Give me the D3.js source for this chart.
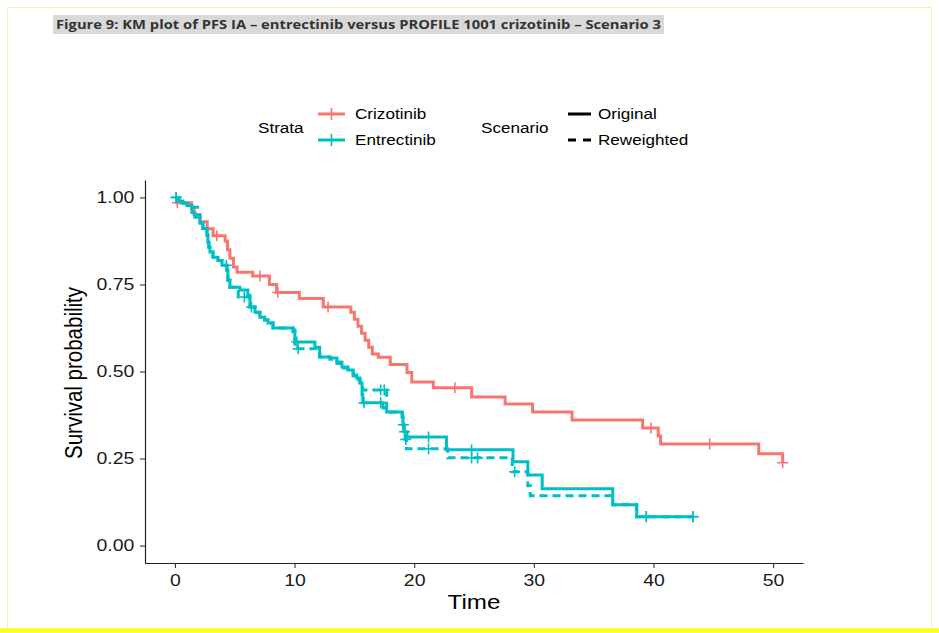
<!DOCTYPE html>
<html>
<head>
  <meta charset="utf-8">
  <title>KM plot of PFS IA</title>
  <script src="https://d3js.org/d3.v7.min.js"></script>
  <style>
    body { margin: 0; background: #fff; }
    svg { display: block; font-family: "Liberation Sans", Arial, sans-serif; }
  </style>
</head>
<body>
  <svg width="939" height="633"></svg>

  <script>
    // crizotinib (original only)
    const crizTime = [0, 0.15, 1.4, 1.6, 2.1, 2.7, 3.2, 4.2, 4.4, 4.6, 4.9, 5.2, 6.5, 7.9, 8.5, 10.4, 12.4,
      14.7, 15.0, 15.3, 15.6, 15.9, 16.2, 16.5, 17.0, 18.0, 19.4, 19.8, 21.6, 24.8, 27.6, 29.9, 33.2,
      39.1, 40.4, 40.6, 48.8, 50.8];
    const crizSurv = [1, 0.985, 0.968, 0.95, 0.93, 0.91, 0.89, 0.875, 0.85, 0.825, 0.80, 0.785, 0.774, 0.75, 0.727, 0.71, 0.685,
      0.67, 0.65, 0.63, 0.61, 0.59, 0.57, 0.55, 0.541, 0.52, 0.497, 0.47, 0.453, 0.427, 0.407, 0.384, 0.361,
      0.338, 0.315, 0.292, 0.264, 0.238];
    const crizCensor = [0.2, 3.5, 7.1, 8.6, 12.8, 23.4, 39.8, 44.7, 50.8];
    const crizEnd = 50.8;

    // entrectinib, original
    const entOrigTime = [0, 0.33, 0.67, 1.0, 1.42, 1.67, 2.09, 2.34, 2.68, 2.76, 2.84, 2.93, 3.18, 3.6, 3.93, 4.35,
      4.43, 4.6, 5.43, 6.1, 6.27, 6.69, 7.1, 7.5, 7.78, 8.2, 9.87, 10.03, 11.7, 12.1, 12.96, 13.55, 13.96,
      14.46, 14.9, 15.2, 15.47, 15.64, 15.7, 17.4, 17.7, 19.0, 19.06, 19.15, 19.4, 22.7, 28.26, 29.5, 30.7,
      36.6, 38.6];
    const entOrigSurv = [1, 0.99, 0.983, 0.977, 0.957, 0.943, 0.926, 0.911, 0.891, 0.871, 0.857, 0.843, 0.828, 0.819, 0.805, 0.791,
      0.762, 0.742, 0.734, 0.719, 0.685, 0.67, 0.656, 0.648, 0.639, 0.625, 0.619, 0.585, 0.57, 0.542, 0.539, 0.527, 0.513,
      0.504, 0.49, 0.481, 0.467, 0.433, 0.41, 0.395, 0.384, 0.37, 0.347, 0.327, 0.312, 0.275, 0.241, 0.203, 0.163,
      0.117, 0.083];
    const entOrigCensor = [0.1, 4.3, 6.4, 10.2, 15.8, 17.2, 19.1, 19.2, 21.2, 24.8, 39.4, 43.3];

    // entrectinib, reweighted
    const entRwTime = [0, 0.33, 0.67, 1.0, 1.9, 2.09, 2.34, 2.68, 2.76, 2.84, 2.93, 3.18, 3.6, 3.93, 4.35,
      4.43, 4.6, 5.3, 6.27, 6.69, 7.1, 7.5, 7.78, 8.2, 9.87, 10.03, 12.1, 12.96, 13.55, 13.96,
      14.46, 14.9, 15.2, 15.47, 15.7, 17.7, 19.0, 19.06, 19.15, 19.25, 19.35, 22.8, 28.2, 29.5, 29.7,
      36.6, 38.6];
    const entRwSurv = [1, 0.99, 0.983, 0.972, 0.95, 0.926, 0.911, 0.891, 0.871, 0.857, 0.843, 0.828, 0.819, 0.805, 0.791,
      0.762, 0.742, 0.714, 0.685, 0.67, 0.656, 0.648, 0.639, 0.625, 0.614, 0.565, 0.542, 0.535, 0.523, 0.51,
      0.5, 0.487, 0.477, 0.462, 0.447, 0.384, 0.37, 0.347, 0.327, 0.305, 0.278, 0.252, 0.212, 0.172, 0.143,
      0.117, 0.083];
    const entRwCensor = [0.1, 5.8, 10.3, 17.2, 17.5, 19.3, 21.2, 24.8, 25.3, 28.4, 39.4, 43.3];
    const entEnd = 43.3;

    const xTicks = [0, 10, 20, 30, 40, 50];
    const yTicks = [0, 0.25, 0.5, 0.75, 1];

    const red = "#F8766D", teal = "#00BFC4";
    const sx = 1.18; // picture is stretched sideways

    const svg = d3.select("svg");

    // page frame
    svg.append("rect").attr("x", 7.5).attr("y", 7.5).attr("width", 924).attr("height", 622)
      .attr("fill", "none").attr("stroke", "#f3f3b0").attr("stroke-width", 1);
    svg.append("rect").attr("x", 0).attr("y", 628).attr("width", 939).attr("height", 5).attr("fill", "#ffff33");

    // caption
    svg.append("rect").attr("x", 53).attr("y", 15).attr("width", 611).attr("height", 19).attr("fill", "#d9d9d9");
    svg.append("text").attr("x", 56).attr("y", 29)
      .attr("font-family", "'Open Sans', sans-serif").attr("font-weight", "bold").attr("font-size", 12.5)
      .attr("fill", "#333").attr("textLength", 605).attr("lengthAdjust", "spacingAndGlyphs")
      .text("Figure 9: KM plot of PFS IA \u2013 entrectinib versus PROFILE 1001 crizotinib \u2013 Scenario 3");

    const x = d3.scaleLinear().domain([-2.5, 52.5]).range([145, 803]);
    const y = d3.scaleLinear().domain([-0.05, 1.05]).range([563, 180]);

    // axes
    const gx = svg.append("g").attr("transform", "translate(0,563)")
      .call(d3.axisBottom(x).tickValues(xTicks).tickSize(5).tickSizeOuter(0).tickPadding(6));
    const gy = svg.append("g").attr("transform", "translate(145,0)")
      .call(d3.axisLeft(y).tickValues(yTicks).tickFormat(d3.format(".2f")).tickSize(5).tickSizeOuter(0).tickPadding(4));
    [gx, gy].forEach(g => {
      g.select(".domain").attr("stroke", "#222").attr("stroke-width", 1.2);
      g.selectAll(".tick line").attr("stroke", "#333").attr("stroke-width", 1.1);
      g.selectAll(".tick text").attr("font-size", 16.5).attr("fill", "#1a1a1a")
        .attr("font-family", "'Liberation Sans', Arial, sans-serif");
    });
    gx.selectAll(".tick text").attr("transform", `scale(${sx},1)`);
    gy.selectAll(".tick text").attr("transform", `scale(${sx},1)`);

    svg.append("text").attr("transform", `translate(474,609) scale(${sx},1)`)
      .attr("text-anchor", "middle").attr("font-size", 20.5).attr("fill", "#000").text("Time");
    svg.append("text").attr("transform", `translate(82,373) scale(${sx},1) rotate(-90)`)
      .attr("text-anchor", "middle").attr("font-size", 20.5).attr("fill", "#000").text("Survival probability");

    // curves
    const stepLine = d3.line().x(d => x(d[0])).y(d => y(d[1])).curve(d3.curveStepAfter);
    const pts = (t, s, end) => t.map((v, i) => [v, s[i]]).concat([[end, s[s.length - 1]]]);
    const survAt = (t, s, v) => { let k = 0; t.forEach((tt, i) => { if (tt <= v) k = i; }); return s[k]; };

    const curves = [
      { t: crizTime, s: crizSurv, c: crizCensor, end: crizEnd, col: red, dash: null },
      { t: entOrigTime, s: entOrigSurv, c: entOrigCensor, end: entEnd, col: teal, dash: null },
      { t: entRwTime, s: entRwSurv, c: entRwCensor, end: entEnd, col: teal, dash: "8,5" }
    ];

    curves.forEach(cv => {
      svg.append("path").attr("d", stepLine(pts(cv.t, cv.s, cv.end)))
        .attr("fill", "none").attr("stroke", cv.col).attr("stroke-width", 3)
        .attr("stroke-dasharray", cv.dash);
      const cg = svg.append("g").attr("stroke", cv.col).attr("stroke-width", 1.6);
      cv.c.forEach(v => {
        const cx = x(v), cy = y(survAt(cv.t, cv.s, v));
        cg.append("line").attr("x1", cx - 5.5).attr("x2", cx + 5.5).attr("y1", cy).attr("y2", cy);
        cg.append("line").attr("x1", cx).attr("x2", cx).attr("y1", cy - 5.5).attr("y2", cy + 5.5);
      });
    });

    // legend
    const lg = svg.append("g").attr("font-size", 14.5).attr("fill", "#000");
    const ltext = (tx, ty, s) => lg.append("text").attr("transform", `translate(${tx},${ty}) scale(${sx},1)`).text(s);
    ltext(258, 133, "Strata");
    ltext(355, 119, "Crizotinib");
    ltext(355, 145, "Entrectinib");
    ltext(481, 133, "Scenario");
    ltext(598, 119, "Original");
    ltext(598, 145, "Reweighted");

    [[114, red], [140, teal]].forEach(([ly, col]) => {
      lg.append("line").attr("x1", 318).attr("x2", 345).attr("y1", ly).attr("y2", ly)
        .attr("stroke", col).attr("stroke-width", 3);
      lg.append("line").attr("x1", 331.5).attr("x2", 331.5).attr("y1", ly - 6).attr("y2", ly + 6)
        .attr("stroke", col).attr("stroke-width", 1.6);
    });
    lg.append("line").attr("x1", 568).attr("x2", 591).attr("y1", 114).attr("y2", 114)
      .attr("stroke", "#000").attr("stroke-width", 3);
    lg.append("line").attr("x1", 568).attr("x2", 591).attr("y1", 140).attr("y2", 140)
      .attr("stroke", "#000").attr("stroke-width", 3).attr("stroke-dasharray", "8,7");
  </script>
</body>
</html>
